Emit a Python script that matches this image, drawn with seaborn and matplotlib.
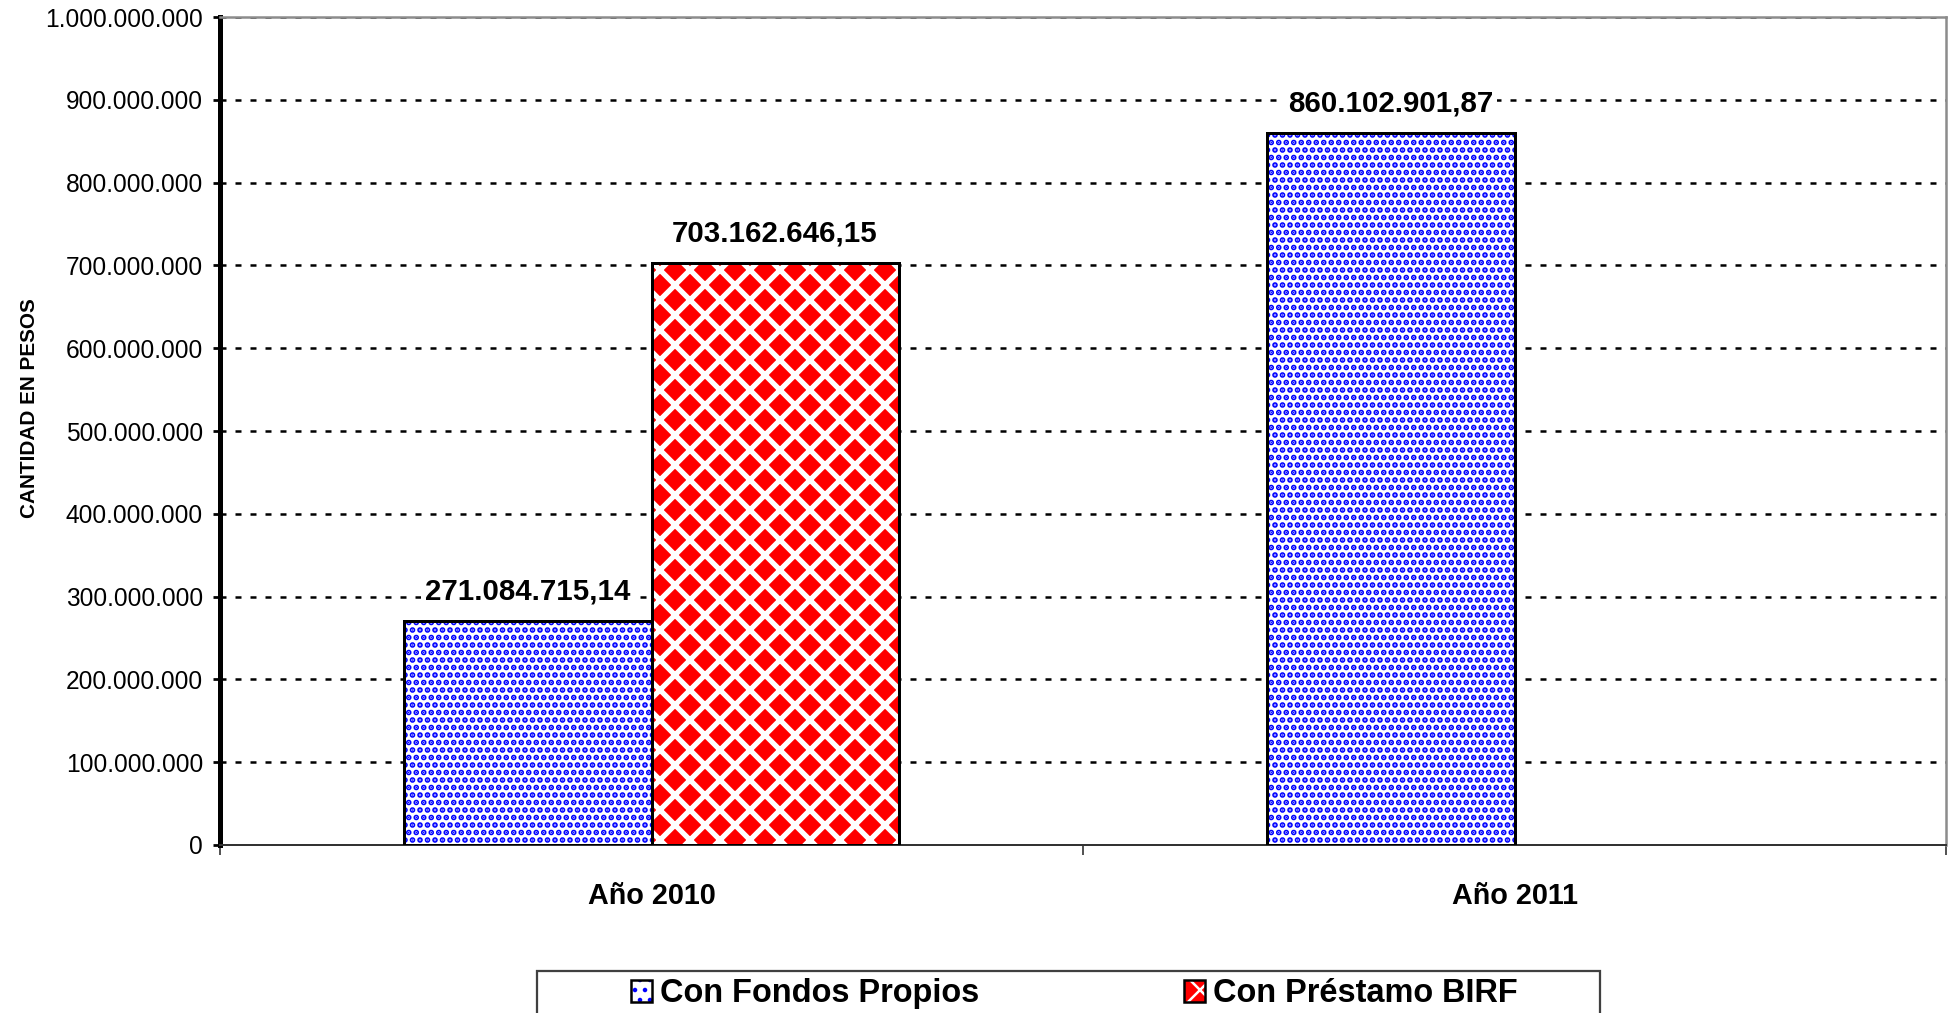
import matplotlib.pyplot as plt
from matplotlib.patches import Patch, Rectangle
from matplotlib.ticker import FuncFormatter, MultipleLocator, FixedLocator
import seaborn as sns
import pandas as pd

# datos del grafico
anios = ['Año 2010', 'Año 2011']
fuentes = ['Con Fondos Propios', 'Con Préstamo BIRF']
fondos_propios = [271084715.14, 860102901.87]
prestamo_birf = [703162646.15, None]   # 2011 sin prestamo

rows = []
for i in range(len(anios)):
    rows.append([anios[i], fuentes[0], fondos_propios[i]])
    if prestamo_birf[i] is not None:
        rows.append([anios[i], fuentes[1], prestamo_birf[i]])
df = pd.DataFrame(rows, columns=['anio', 'fuente', 'monto'])


def miles(v, pos=None):
    return f'{v:,.0f}'.replace(',', '.')


def pesos(v):
    return f'{v:,.2f}'.replace(',', '#').replace('.', ',').replace('#', '.')


sns.set_style('white')
plt.rcParams['font.family'] = ['Liberation Sans', 'DejaVu Sans']
plt.rcParams['text.color'] = 'black'
plt.rcParams['axes.labelcolor'] = 'black'
plt.rcParams['xtick.color'] = 'black'
plt.rcParams['ytick.color'] = 'black'

DPI = 180
W, H = 1957, 1013
fig = plt.figure(figsize=(W / DPI, H / DPI), dpi=DPI)
ax = fig.add_axes([220 / W, 1 - 845 / H, (1946 - 220) / W, (845 - 17) / H])

# barras con trama
sns.barplot(data=df, x='anio', y='monto', hue='fuente', order=anios, hue_order=fuentes,
            palette=['white', 'red'], width=0.573, errorbar=None, legend=False,
            linewidth=0, zorder=2, ax=ax)

tramas = [('white', 'blue', '....', 1.6), ('red', 'white', 'xx', 2.1)]
for cont, (cara, col, trama, lw) in zip(ax.containers[:2], tramas):
    for bar in cont:
        bar.set_facecolor(cara)
        bar.set_edgecolor(col)
        bar.set_hatch(trama)
        bar.set_linewidth(0)
        bar.set_hatch_linewidth(lw)

for cont in ax.containers[:2]:
    ax.bar_label(cont, labels=[pesos(b.get_height()) for b in cont], padding=6,
                 fontsize=11.8, fontweight='bold', color='black', zorder=5,
                 bbox=dict(facecolor='white', edgecolor='none', pad=1.5))

# contorno negro de las barras
sns.barplot(data=df, x='anio', y='monto', hue='fuente', order=anios, hue_order=fuentes,
            palette=['black', 'black'], width=0.573, errorbar=None, legend=False,
            fill=False, linewidth=1.2, zorder=3, ax=ax)

ax.set_xlim(-0.5, 1.5)
ax.set_ylim(0, 1e9)
ax.yaxis.set_major_locator(MultipleLocator(1e8))
ax.yaxis.set_major_formatter(FuncFormatter(miles))
ax.tick_params(axis='y', left=True, length=2.8, width=1.1, pad=4, labelsize=9.8)
ax.tick_params(axis='x', which='major', length=0, pad=15, labelsize=11.5)
ax.xaxis.set_minor_locator(FixedLocator([-0.5, 0.5, 1.5]))
ax.tick_params(axis='x', which='minor', bottom=True, length=4, width=0.8, color='#555555')
for lab in ax.get_xticklabels():
    lab.set_fontweight('bold')

ax.set_xlabel('')
ax.set_ylabel('CANTIDAD EN PESOS', fontsize=8.3, fontweight='bold')
ax.yaxis.set_label_coords(-0.105, 0.528)

ax.yaxis.grid(True, color='black', lw=1.0, ls=(0, (2.4, 3.6)))
ax.xaxis.grid(False)
ax.set_axisbelow(True)

ax.spines['left'].set_color('black')
ax.spines['left'].set_linewidth(2.0)
ax.spines['bottom'].set_color('#333333')
ax.spines['bottom'].set_linewidth(0.8)
for s in ['top', 'right']:
    ax.spines[s].set_color('#8c8c8c')
    ax.spines[s].set_linewidth(1.0)

# leyenda
h_azul = (Patch(facecolor='white', edgecolor='blue', hatch='...', linewidth=0),
          Patch(facecolor='none', edgecolor='black', linewidth=1.0))
h_rojo = (Patch(facecolor='red', edgecolor='white', hatch='xx', linewidth=0),
          Patch(facecolor='none', edgecolor='black', linewidth=1.0))
h_azul[0].set_hatch_linewidth(1.8)
h_rojo[0].set_hatch_linewidth(2.0)
fig.legend(handles=[h_azul, h_rojo], labels=fuentes, ncol=2, loc='center',
           bbox_to_anchor=(0.549, 0.0188), frameon=False,
           prop=dict(weight='bold', size=13), handlelength=0.65, handleheight=0.65,
           handletextpad=0.25, columnspacing=6.3)
fig.add_artist(Rectangle((537 / W, -0.01), (1600 - 537) / W, (H - 971) / H + 0.01,
                         transform=fig.transFigure, fill=False, edgecolor='#404040', lw=0.9))

fig.savefig('out.png', dpi=DPI, facecolor='white')
